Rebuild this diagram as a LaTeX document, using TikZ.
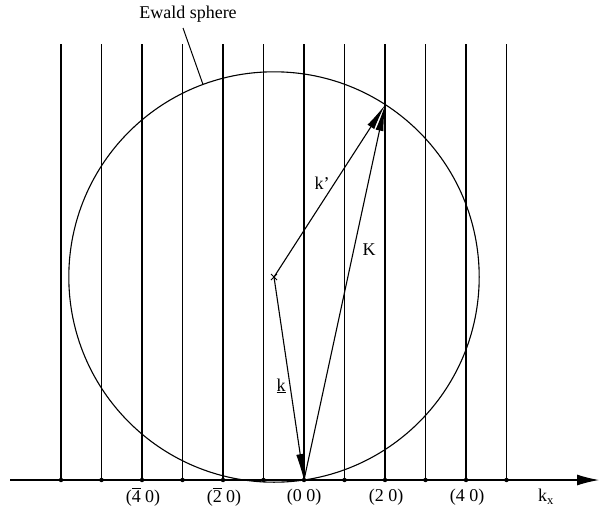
\documentclass[tikz,border=0pt]{standalone}
\usepackage{fontspec}
\setmainfont{Liberation Serif}
\usetikzlibrary{arrows.meta,calc}
\newcommand\ovlbar[1]{\leavevmode\vbox{\hrule height 1pt\kern1.5pt\hbox{#1}}}
\begin{document}
\begin{tikzpicture}[x=1pt,y=-1pt,
  thinline/.style={line width=1.1pt},
  vec/.style={line width=1.1pt,-{Latex[length=26pt,width=8pt]}},
  lbl/.style={font=\fontsize{18}{21}\selectfont,inner sep=1pt}]
\useasboundingbox (0,0) rectangle (600,512);
% reciprocal lattice rods
\foreach \i in {-6,...,5} {
  \coordinate (t\i) at ({304+40.5*\i},44);
  \coordinate (b\i) at ({304+40.5*\i},480);
  \draw[thinline] (t\i) -- (b\i);
  \fill (b\i) circle[radius=2.2pt];
}
% axis
\coordinate (axL) at (10,480);
\coordinate (axR) at (599,480);
\draw[thinline,-{Latex[length=22pt,width=11pt]}] (axL) -- (axR);
% Ewald sphere
\coordinate (O) at (274,277);
\draw[thinline] (O) circle[radius=205.2pt];
% center mark
\draw[line width=0.9pt] ($(O)+(-3,-3)$) -- ($(O)+(3,3)$) ($(O)+(-3,3)$) -- ($(O)+(3,-3)$);
% vectors
\coordinate (P) at (304,480);
\coordinate (Q) at (385,105);
\draw[vec] (O) -- (Q);
\draw[vec] (P) -- (Q);
\draw[vec] (O) -- (P);
% labels
\node[lbl] (lkp) at (322,183) {k'};
\node[lbl] (lK) at (369,250) {K};
\node[lbl] (lk) at (281,386) {\underline{k}};
\node[lbl] (l1) at (143,497) {(\ovlbar{4} 0)};
\node[lbl] (l2) at (224,497) {(\ovlbar{2} 0)};
\node[lbl] (l3) at (304,497) {(0 0)};
\node[lbl] (l4) at (386,497) {(2 0)};
\node[lbl] (l5) at (467,497) {(4 0)};
\node[lbl] (lkx) at (546,497) {k\textsubscript{x}};
\node[lbl] (ew) at (188,14) {Ewald sphere};
\coordinate (ewA) at (183,28);
\coordinate (ewB) at (203,84.5);
\draw[line width=1pt] (ewA) -- (ewB);
\end{tikzpicture}
\end{document}
